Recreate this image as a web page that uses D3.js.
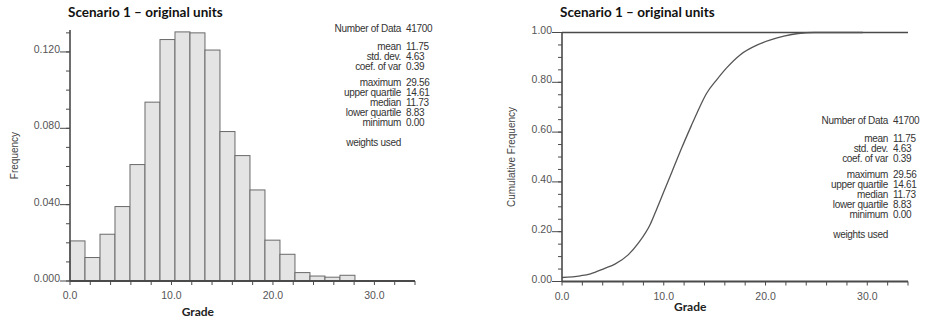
<!DOCTYPE html>
<html>
<head>
<meta charset="utf-8">
<script src="https://cdn.jsdelivr.net/npm/d3@7"></script>
<style>
  body { margin: 0; background: #fff; }
  svg { display: block; }
</style>
</head>
<body>
<div id="chart"></div>
<script>
const WIDTH = 931;
const HEIGHT = 321;

// histogram: 20 bins from 0 to the maximum 29.56
const BIN_START = 0;
const BIN_WIDTH = 29.56 / 20;
const FREQUENCIES = [0.021, 0.0123, 0.0245, 0.039, 0.061, 0.0937, 0.1265, 0.1305, 0.130, 0.121,
  0.0783, 0.0657, 0.0477, 0.0214, 0.014, 0.0044, 0.0026, 0.002, 0.003, 0.0];

// cumulative curve
const CDF_GRADE = [0, 1.8, 2.8, 4.2, 5.2, 6.5, 7.5, 8.7, 9.2, 10, 10.8, 11.8, 12.7, 13.3, 14.2,
  15.2, 16.2, 17.5, 19.2, 20.5, 21.8, 23.2, 24.8, 29.56];
const CDF_VALUE = [0.016, 0.023, 0.031, 0.053, 0.07, 0.107, 0.154, 0.232, 0.28, 0.36, 0.44, 0.54,
  0.625, 0.68, 0.755, 0.81, 0.859, 0.91, 0.95, 0.97, 0.985, 0.996, 1.0, 1.0];

const STAT_LABELS = ["Number of Data", "mean", "std. dev.", "coef. of var", "maximum",
  "upper quartile", "median", "lower quartile", "minimum", "weights used"];
const STAT_VALUES = ["41700", "11.75", "4.63", "0.39", "29.56", "14.61", "11.73", "8.83", "0.00", ""];
const STAT_OFFSETS = [0, 18, 28, 38, 54, 64, 74, 84, 94, 114];

const X_TICKS = [0, 10, 20, 30];
const FREQ_TICKS = [0, 0.04, 0.08, 0.12];
const CUM_TICKS = [0, 0.2, 0.4, 0.6, 0.8, 1.0];

const AXIS_COLOR = "#4a4a4a";
const LABEL_COLOR = "#555";

const svg = d3.select("#chart").append("svg")
  .attr("width", WIDTH)
  .attr("height", HEIGHT);

// draws one axis with minor + major ticks, GSLIB style
function drawAxes(g, x, y, opts) {
  const [x0, x1] = x.range();
  const [y0, y1] = y.range();

  // x minor ticks every 2
  g.append("g").selectAll("line")
    .data(d3.range(0, 34.01, 2))
    .join("line")
    .attr("x1", (d) => x(d)).attr("x2", (d) => x(d))
    .attr("y1", y0).attr("y2", y0 + 4)
    .attr("stroke", AXIS_COLOR).attr("stroke-width", 1);

  g.append("g").selectAll("text")
    .data(X_TICKS)
    .join("text")
    .attr("x", (d) => x(d))
    .attr("y", y0 + 18)
    .attr("text-anchor", "middle")
    .attr("font-family", "Liberation Sans, Arial, sans-serif")
    .attr("font-size", 10.5)
    .attr("fill", LABEL_COLOR)
    .text((d) => d.toFixed(1));

  // y minor ticks
  g.append("g").selectAll("line")
    .data(opts.minor)
    .join("line")
    .attr("x1", x0 - 4).attr("x2", x0)
    .attr("y1", (d) => y(d)).attr("y2", (d) => y(d))
    .attr("stroke", AXIS_COLOR).attr("stroke-width", 1);

  // y major ticks (longer, label sits on it)
  g.append("g").selectAll("line")
    .data(opts.major)
    .join("line")
    .attr("x1", x0 - 10).attr("x2", x0)
    .attr("y1", (d) => y(d)).attr("y2", (d) => y(d))
    .attr("stroke", AXIS_COLOR).attr("stroke-width", 1);

  g.append("g").selectAll("text")
    .data(opts.major)
    .join("text")
    .attr("x", x0 - 10)
    .attr("y", (d) => y(d) + 1)
    .attr("text-anchor", "end")
    .attr("font-family", "Liberation Sans, Arial, sans-serif")
    .attr("font-size", 10.5)
    .attr("fill", LABEL_COLOR)
    .text(opts.format);

  g.append("line")
    .attr("x1", x0).attr("x2", x0)
    .attr("y1", y0).attr("y2", y1)
    .attr("stroke", AXIS_COLOR).attr("stroke-width", 1.6);

  g.append("line")
    .attr("x1", x0).attr("x2", x1)
    .attr("y1", y0).attr("y2", y0)
    .attr("stroke", AXIS_COLOR).attr("stroke-width", 2);
}

function drawTitles(g, x, y, title, yLabel, yLabelX, gradeY) {
  const [x0, x1] = x.range();
  const [y0, y1] = y.range();
  g.append("text")
    .attr("x", x0 - 2)
    .attr("y", 17)
    .attr("font-family", "Lato, sans-serif")
    .attr("font-weight", "bold")
    .attr("font-size", 13.5)
    .attr("fill", "#111")
    .text(title);

  g.append("text")
    .attr("x", x(12.6))
    .attr("y", gradeY)
    .attr("text-anchor", "middle")
    .attr("font-family", "Lato, sans-serif")
    .attr("font-weight", "bold")
    .attr("font-size", 12)
    .attr("fill", "#222")
    .text("Grade");

  g.append("text")
    .attr("transform", `translate(${yLabelX},${(y0 + y1) / 2}) rotate(-90)`)
    .attr("text-anchor", "middle")
    .attr("dominant-baseline", "middle")
    .attr("font-family", "Liberation Sans, Arial, sans-serif")
    .attr("font-size", 10)
    .attr("fill", "#444")
    .text(yLabel);
}

function drawStats(g, rightX, topY) {
  const rows = g.append("g").selectAll("g")
    .data(STAT_LABELS)
    .join("g")
    .attr("transform", (d, i) => `translate(0,${topY + STAT_OFFSETS[i]})`);
  rows.append("text")
    .attr("x", rightX)
    .attr("text-anchor", "end")
    .attr("dominant-baseline", "middle")
    .attr("font-family", "Liberation Sans, Arial, sans-serif")
    .attr("font-size", 10)
    .attr("letter-spacing", -0.3)
    .attr("fill", "#333")
    .text((d) => d);
  rows.append("text")
    .attr("x", rightX + 5)
    .attr("dominant-baseline", "middle")
    .attr("font-family", "Liberation Sans, Arial, sans-serif")
    .attr("font-size", 10)
    .attr("letter-spacing", -0.3)
    .attr("fill", "#333")
    .text((d, i) => STAT_VALUES[i]);
}

// ---------- left: histogram ----------
const X_HIST = d3.scaleLinear().domain([0, 34]).range([70, 415]);
const Y_HIST = d3.scaleLinear().domain([0, 0.1315]).range([281, 30]);
const LEFT = svg.append("g");

LEFT.append("g").selectAll("rect")
  .data(FREQUENCIES)
  .join("rect")
  .attr("x", (d, i) => X_HIST(BIN_START + i * BIN_WIDTH))
  .attr("y", (d) => Y_HIST(d))
  .attr("width", X_HIST(BIN_WIDTH) - X_HIST(0))
  .attr("height", (d) => Y_HIST(0) - Y_HIST(d))
  .attr("fill", "#e4e4e4")
  .attr("stroke", "#6a6a6a")
  .attr("stroke-width", 1);

drawAxes(LEFT, X_HIST, Y_HIST, {
  minor: d3.range(0, 0.131, 0.01),
  major: FREQ_TICKS,
  format: (d) => d.toFixed(3),
});
drawTitles(LEFT, X_HIST, Y_HIST, "Scenario 1 \u2013 original units", "Frequency", 15, 316);
drawStats(LEFT, 401, 29);

// ---------- right: cumulative ----------
const X_CUM = d3.scaleLinear().domain([0, 34]).range([562, 908]);
const Y_CUM = d3.scaleLinear().domain([0, 1]).range([281.5, 32.5]);
const RIGHT = svg.append("g");

RIGHT.append("line")
  .attr("x1", X_CUM(0)).attr("x2", X_CUM(34))
  .attr("y1", Y_CUM(1)).attr("y2", Y_CUM(1))
  .attr("stroke", AXIS_COLOR).attr("stroke-width", 1.6);

const cdfLine = d3.line()
  .x((d, i) => X_CUM(CDF_GRADE[i]))
  .y((d) => Y_CUM(d))
  .curve(d3.curveMonotoneX);

RIGHT.append("path")
  .attr("d", cdfLine(CDF_VALUE))
  .attr("fill", "none")
  .attr("stroke", "#555")
  .attr("stroke-width", 1.3);

drawAxes(RIGHT, X_CUM, Y_CUM, {
  minor: d3.range(0, 1.001, 0.05),
  major: CUM_TICKS,
  format: (d) => d.toFixed(2),
});
drawTitles(RIGHT, X_CUM, Y_CUM, "Scenario 1 \u2013 original units", "Cumulative Frequency", 512, 311);
drawStats(RIGHT, 888, 121);
</script>
</body>
</html>
